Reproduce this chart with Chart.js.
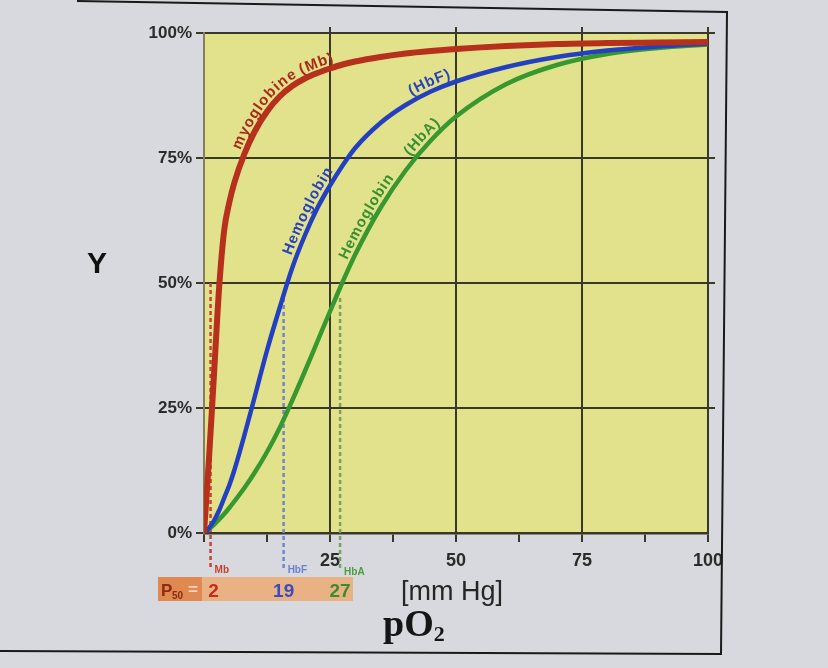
<!DOCTYPE html>
<html><head><meta charset="utf-8">
<script src="https://cdn.jsdelivr.net/npm/chart.js@4.4.0/dist/chart.umd.min.js"></script>
<style>html,body{margin:0;padding:0;background:#d7d9df;}canvas{display:block;}</style>
</head><body>
<canvas id="c" width="828" height="668"></canvas>
<script>
// ---- data ----
const pO2 = [0,1,2,3,4,5,6,8,10,12.5,15,17.5,20,22.5,25,27.5,30,35,40,45,50,60,70,80,90,100];
const myoglobinMb   = [0,15,32,49,60.5,66,70,75.8,80.2,84.3,87.3,89.4,90.9,92,92.9,93.7,94.3,95.2,95.9,96.4,96.8,97.4,97.8,98,98.1,98.2];
const hemoglobinHbF = [0,1,2.5,4.5,7,9.5,12.5,19.5,27,36.5,45,53,59.5,65,69.5,73.5,77,82,85.6,88.3,90.3,93.2,95.2,96.5,97.3,97.9];
const hemoglobinHbA = [0,0.8,1.7,2.7,3.8,5,6.3,9,12,16.2,21,26.5,32.3,38.3,44.3,50.2,55.7,65,72.5,78.5,83.3,89.8,93.6,95.8,97,97.7];
const p50Marks  = [1.3, 15.8, 27];      // dashed P50 marker positions (mm Hg)
const p50Labels = ['2', '19', '27'];
const p50Names  = ['Mb', 'HbF', 'HbA'];
const xTickLabels = ['25','50','75','100'];
const yTickLabels = ['0%','25%','50%','75%','100%'];

const FONT = '"Liberation Sans", Arial, sans-serif';
const RED = '#b6301c', BLUE = '#2340c0', GREEN = '#36982e';
const GRID = '#3a3828';

const curveLabels = [
  {ds:0, text:'myoglobine', startY:76,   color:'#a82a1a'},
  {ds:0, text:'(Mb)',       startY:90.8, color:'#a82a1a'},
  {ds:1, text:'Hemoglobin', startY:55,   color:'#2a44b8'},
  {ds:1, text:'(HbF)',      startY:86.5, color:'#2a44b8'},
  {ds:2, text:'Hemoglobin', startY:54,   color:'#3a9030'},
  {ds:2, text:'(HbA)',      startY:74.5, color:'#3a9030'}
];

function pts(ys){ return pO2.map((p,i)=>({x:p, y:ys[i]})); }

function curvePath(meta){
  const el = meta.data, out = [];
  for (let i=0;i<el.length;i++){
    const b = el[i];
    if (i===0){ out.push([b.x,b.y]); continue; }
    const a = el[i-1];
    const c1x = a.cp2x ?? a.x, c1y = a.cp2y ?? a.y, c2x = b.cp1x ?? b.x, c2y = b.cp1y ?? b.y;
    for (let k=1;k<=30;k++){
      const t=k/30, u=1-t;
      out.push([u*u*u*a.x+3*u*u*t*c1x+3*u*t*t*c2x+t*t*t*b.x,
                u*u*u*a.y+3*u*u*t*c1y+3*u*t*t*c2y+t*t*t*b.y]);
    }
  }
  const s=[0];
  for (let i=1;i<out.length;i++) s.push(s[i-1]+Math.hypot(out[i][0]-out[i-1][0], out[i][1]-out[i-1][1]));
  return {p:out, s};
}
function pathAt(path, d){
  const {p,s} = path; let i=1;
  while (i<s.length-1 && s[i]<d) i++;
  const seg = (s[i]-s[i-1])||1, t = Math.max(0,Math.min(1,(d-s[i-1])/seg));
  const x = p[i-1][0]+(p[i][0]-p[i-1][0])*t, y = p[i-1][1]+(p[i][1]-p[i-1][1])*t;
  const j0 = Math.max(0,i-4), j1 = Math.min(p.length-1,i+3);
  const ang = Math.atan2(p[j1][1]-p[j0][1], p[j1][0]-p[j0][0]);
  return {x,y,ang};
}
function drawOnCurve(ctx, path, text, yPix, color){
  let d = 0;
  for (let i=0;i<path.p.length;i++){ if (path.p[i][1] <= yPix){ d = path.s[i]; break; } }
  ctx.save();
  ctx.font = 'bold 15px ' + FONT; ctx.fillStyle = color;
  ctx.textAlign = 'center'; ctx.textBaseline = 'alphabetic';
  for (const ch of text){
    const w = ctx.measureText(ch).width;
    const m = pathAt(path, d + w/2);
    const nx = Math.sin(m.ang), ny = -Math.cos(m.ang), off = 5;
    ctx.save(); ctx.translate(m.x+nx*off, m.y+ny*off); ctx.rotate(m.ang);
    ctx.fillText(ch, 0, 0); ctx.restore();
    d += w + 0.8;
  }
  ctx.restore();
}

const decor = {
  id:'decor',
  beforeDraw(chart){
    const {ctx, chartArea:a} = chart;
    ctx.save();
    ctx.fillStyle = '#d7d9df'; ctx.fillRect(0,0,chart.width,chart.height);
    ctx.fillStyle = '#e3e28c'; ctx.fillRect(a.left,a.top,a.right-a.left,a.bottom-a.top);
    ctx.restore();
  },
  afterDraw(chart){
    const {ctx, chartArea:a, scales:{x,y}} = chart;
    ctx.save();
    // grid extensions
    ctx.strokeStyle = GRID; ctx.lineWidth = 2;
    [25,50,75,100].forEach(v=>{ const px=x.getPixelForValue(v); ctx.beginPath(); ctx.moveTo(px,a.top); ctx.lineTo(px,a.top-6); ctx.stroke(); });
    [25,50,75,100].forEach(v=>{ const py=y.getPixelForValue(v); ctx.beginPath(); ctx.moveTo(a.right,py); ctx.lineTo(a.right+7,py); ctx.stroke(); });
    // frame
    ctx.strokeStyle = '#1a1a1a'; ctx.lineWidth = 2;
    ctx.beginPath(); ctx.moveTo(77,1); ctx.lineTo(727,12); ctx.lineTo(721,654); ctx.lineTo(0,651); ctx.stroke();
    // curve labels
    curveLabels.forEach(l=>{
      const path = curvePath(chart.getDatasetMeta(l.ds));
      drawOnCurve(ctx, path, l.text, y.getPixelForValue(l.startY), l.color);
    });
    // Y label
    ctx.fillStyle = '#111'; ctx.font = 'bold 30px ' + FONT; ctx.textAlign='center'; ctx.textBaseline='middle';
    ctx.fillText('Y', 97, 265);
    // unit + pO2
    ctx.fillStyle = '#262626'; ctx.font = '27px ' + FONT; ctx.textAlign='center'; ctx.textBaseline='alphabetic';
    ctx.fillText('[mm Hg]', 452, 600);
    ctx.fillStyle = '#151515'; ctx.font = 'bold 38px "Liberation Serif", "Times New Roman", serif'; ctx.textAlign='left';
    ctx.fillText('pO', 383, 636);
    const wpo = ctx.measureText('pO').width;
    ctx.font = 'bold 22px "Liberation Serif", "Times New Roman", serif';
    ctx.fillText('2', 383+wpo, 641);
    // P50 box
    ctx.fillStyle = '#e9b285'; ctx.fillRect(158,577,195,24);
    ctx.fillStyle = '#e08a52'; ctx.fillRect(158,577,44,24);
    ctx.fillStyle = '#8e2a12'; ctx.font = 'bold 17px ' + FONT; ctx.textAlign='left';
    ctx.fillText('P', 161, 596);
    ctx.font = 'bold 10px ' + FONT; ctx.fillText('50', 172, 599);
    ctx.fillStyle = '#f1d2c0'; ctx.font = 'bold 17px ' + FONT; ctx.fillText('=', 188, 595);
    const pcol = ['#cc2a1a','#3a4cc0','#3c8c2c'];
    ctx.font = 'bold 19px ' + FONT; ctx.textAlign='center';
    p50Marks.forEach((m,i)=>{
      const px = x.getPixelForValue(m);
      ctx.fillStyle = pcol[i];
      ctx.fillText(p50Labels[i], i===0 ? px+3 : px, 597);
    });
    ctx.font = 'bold 10px ' + FONT; ctx.textAlign='left';
    const ncol = ['#c8402a','#6a80d0','#4aa040'];
    p50Marks.forEach((m,i)=>{
      const px = x.getPixelForValue(m);
      ctx.fillStyle = ncol[i];
      ctx.fillText(p50Names[i], px+4, i===2 ? 575 : 573);
    });
    ctx.restore();
  }
};

const dashCols = ['#c0443a','#6f86cc','#7aa060'];
const dashSets = p50Marks.map((m,i)=>({
  data:[{x:m,y:i===0?50:47},{x:m,y:-7}],
  borderColor:dashCols[i], borderWidth:2.5, borderDash:[4,3],
  pointRadius:0, clip:false, tension:0
}));

new Chart(document.getElementById('c'), {
  type:'line',
  data:{ datasets:[
    {label:'myoglobine (Mb)', data:pts(myoglobinMb), borderColor:RED, borderWidth:6, pointRadius:0, cubicInterpolationMode:'monotone', borderCapStyle:'round'},
    {label:'Hemoglobin (HbF)', data:pts(hemoglobinHbF), borderColor:BLUE, borderWidth:4.5, pointRadius:0, cubicInterpolationMode:'monotone', borderCapStyle:'round'},
    {label:'Hemoglobin (HbA)', data:pts(hemoglobinHbA), borderColor:GREEN, borderWidth:4.5, pointRadius:0, cubicInterpolationMode:'monotone', borderCapStyle:'round'},
    ...dashSets
  ]},
  options:{
    responsive:false, animation:false,
    layout:{padding:{left:0, top:33, right:120, bottom:0}},
    plugins:{legend:{display:false}, tooltip:{enabled:false}},
    scales:{
      x:{type:'linear', min:0, max:100,
        afterFit(s){ s.height = 135; },
        ticks:{stepSize:12.5, autoSkip:false, maxRotation:0, padding:8, color:'#2b2b2b',
          font:{family:FONT, size:18, weight:'bold'},
          callback:(v)=> xTickLabels.includes(String(v)) ? String(v) : ''},
        grid:{color:(c)=> (c.tick && c.tick.value>0 && c.tick.value%25===0) ? GRID : 'rgba(0,0,0,0)',
          tickColor:GRID, lineWidth:2, tickLength:9},
        border:{display:true, color:'#3a3628', width:2.5}
      },
      y:{min:0, max:100,
        afterFit(s){ s.width = 204; },
        ticks:{stepSize:25, padding:4, color:'#2b2b2b', font:{family:FONT, size:17, weight:'bold'},
          callback:(v,i)=> yTickLabels[i]},
        grid:{color:GRID, lineWidth:2, tickLength:8},
        border:{display:true, color:'#857f5a', width:2}
      }
    }
  },
  plugins:[decor]
});
</script>
</body></html>
